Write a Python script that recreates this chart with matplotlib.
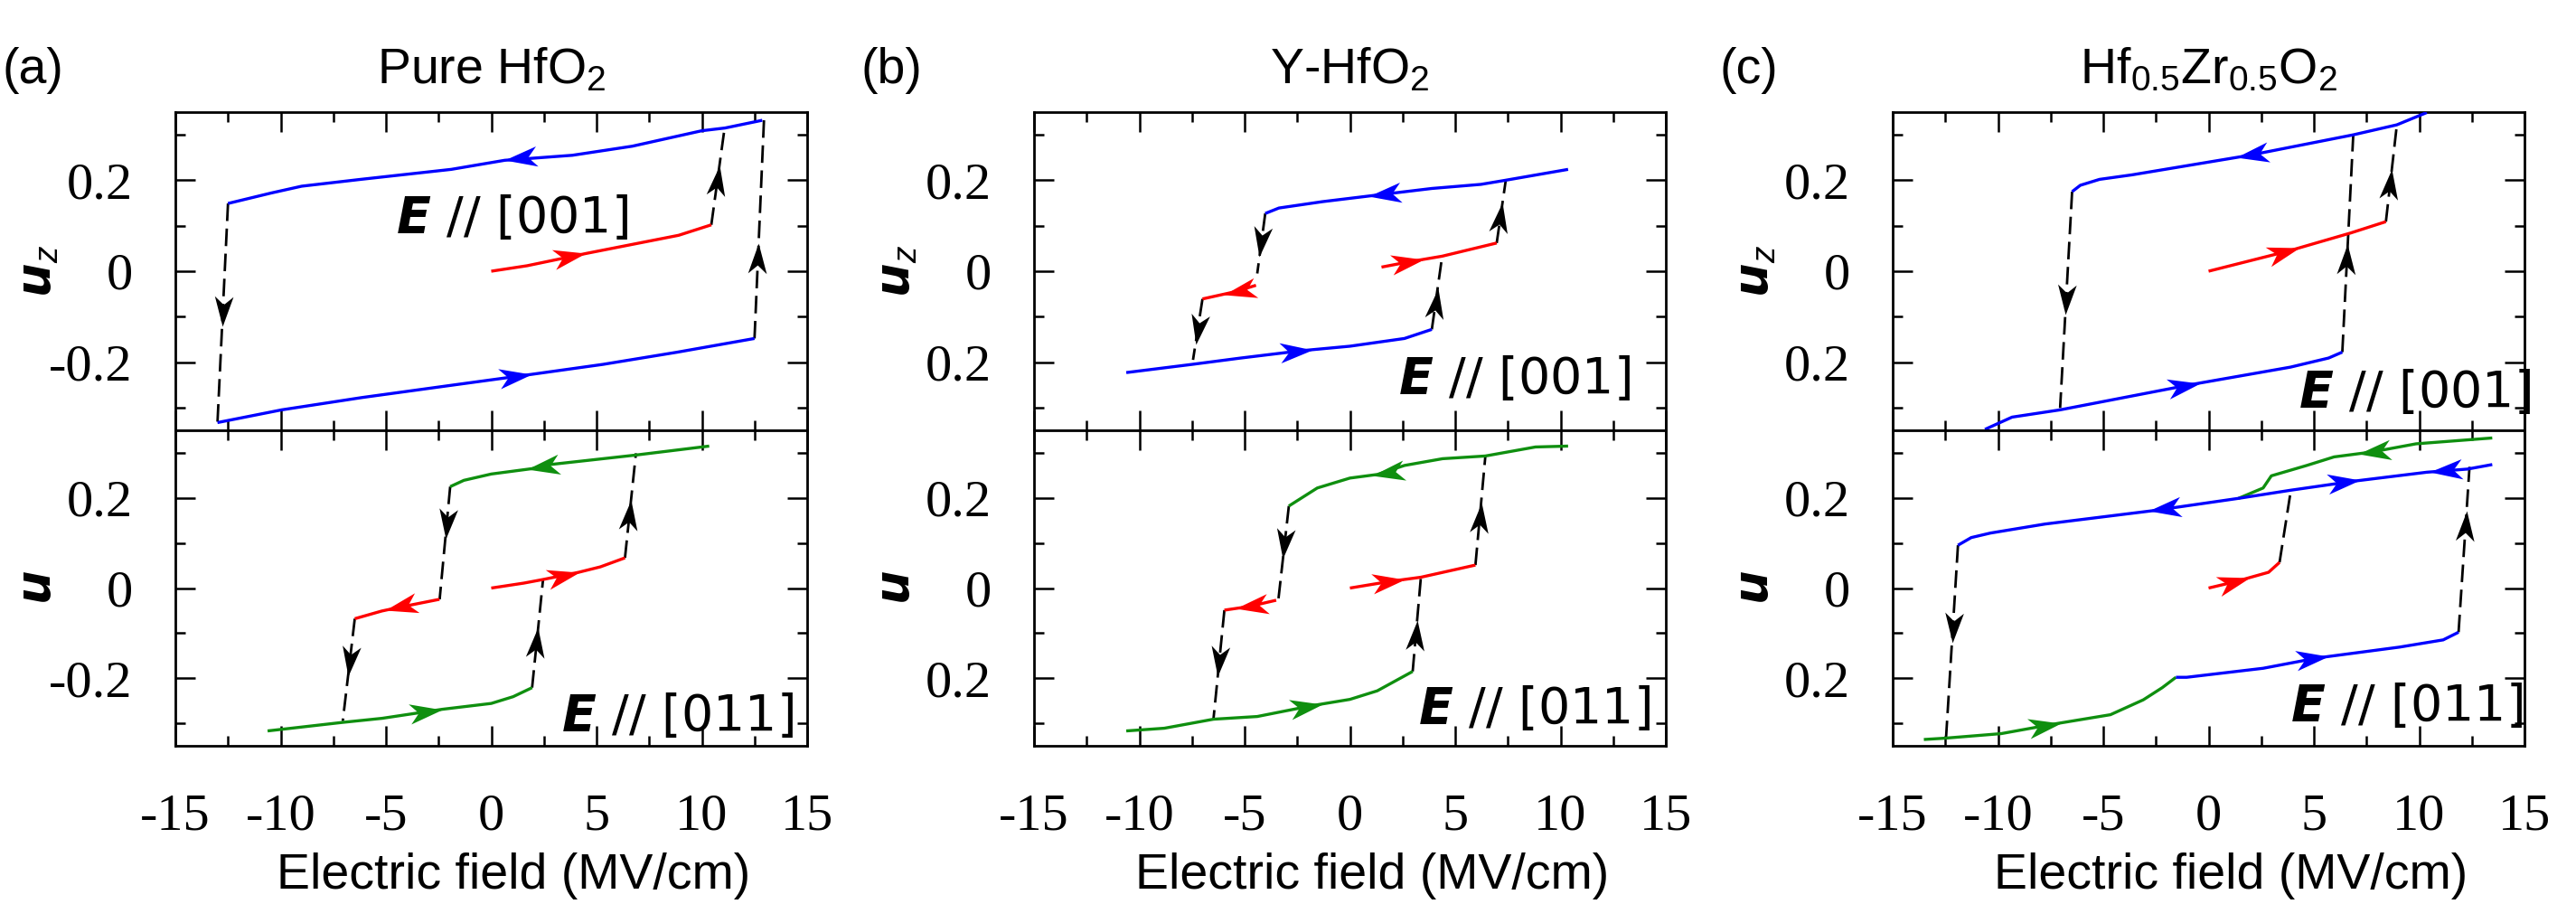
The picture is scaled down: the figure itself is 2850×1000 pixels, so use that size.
import numpy as np
import matplotlib
matplotlib.use("Agg")
import matplotlib.pyplot as plt
from matplotlib.markers import MarkerStyle
from matplotlib.path import Path
from matplotlib.transforms import Affine2D
from matplotlib.ticker import FixedLocator, MultipleLocator, NullFormatter

TICK_FONT = "Liberation Serif"
SANS = "Liberation Sans"
plt.rcParams['font.family'] = [TICK_FONT, 'DejaVu Serif']
plt.rcParams['font.serif'] = [TICK_FONT, 'DejaVu Serif']
plt.rcParams['mathtext.fontset'] = 'custom'
plt.rcParams['mathtext.default'] = 'regular'
plt.rcParams['mathtext.rm'] = TICK_FONT
plt.rcParams['mathtext.it'] = 'Liberation Sans:italic'
plt.rcParams['mathtext.bf'] = 'DejaVu Sans:bold:italic'

# ---------------- labels ----------------
TITLES = ["Pure HfO$_2$", "Y-HfO$_2$", "Hf$_{0.5}$Zr$_{0.5}$O$_2$"]
PANEL_TAGS = ["(a)", "(b)", "(c)"]
XTICKS = [-15, -10, -5, 0, 5, 10, 15]
XTICK_LABELS = ["-15", "-10", "-5", "0", "5", "10", "15"]
YTICKS = [-0.2, 0, 0.2]
YTICK_LABELS = [["-0.2", "0", "0.2"], ["0.2", "0", "0.2"], ["0.2", "0", "0.2"]]
TOP_NOTE = r"$\mathbf{E}$ // [001]"
BOT_NOTE = r"$\mathbf{E}$ // [011]"

# ---------------- (a) Pure HfO2, E // [001] ----------------
A_TOP_RED_X = [0, 1.7, 4.5, 6.7, 8.9, 10.45]
A_TOP_RED_Y = [0, 0.012, 0.039, 0.059, 0.079, 0.102]
A_TOP_BLUE_UP_X = [12.87, 11.1, 10.0, 6.7, 3.85, 0.64, -1.9, -6.2, -9.0, -10.45, -12.5]
A_TOP_BLUE_UP_Y = [0.332, 0.315, 0.309, 0.275, 0.255, 0.244, 0.224, 0.202, 0.187, 0.172, 0.149]
A_TOP_BLUE_DN_X = [-13.0, -9.95, -6.15, -1.9, 1.9, 5.3, 8.85, 12.5]
A_TOP_BLUE_DN_Y = [-0.333, -0.305, -0.278, -0.251, -0.227, -0.205, -0.178, -0.148]
A_TOP_RED_ARROWS = [(4.5, 1)]
A_TOP_BLUE_UP_ARROWS = [(0.64, -1)]
A_TOP_BLUE_DN_ARROWS = [(1.9, 1)]
# jumps: x0, y0, x1, y1, y of arrow tip
A_TOP_JUMPS = [(10.45, 0.102, 11.08, 0.315, 0.232),
               (-12.5, 0.149, -13.0, -0.333, -0.121),
               (12.5, -0.148, 12.95, 0.332, 0.062)]

# ---------------- (a) Pure HfO2, E // [011] ----------------
A_BOT_RED_R_X = [0, 1.55, 2.46, 4.15, 5.18, 6.35]
A_BOT_RED_R_Y = [0, 0.011, 0.019, 0.035, 0.047, 0.067]
A_BOT_GREEN_UP_X = [-1.95, -1.3, 0, 1.95, 2.6, 6.85, 10.35]
A_BOT_GREEN_UP_Y = [0.225, 0.239, 0.253, 0.265, 0.273, 0.295, 0.315]
A_BOT_RED_L_X = [-6.48, -5.2, -4.4, -2.46]
A_BOT_RED_L_Y = [-0.068, -0.051, -0.043, -0.025]
A_BOT_GREEN_DN_X = [-10.62, -7.05, -5.18, -2.33, 0, 1.04, 1.94]
A_BOT_GREEN_DN_Y = [-0.317, -0.298, -0.289, -0.269, -0.256, -0.241, -0.221]
A_BOT_RED_R_ARROWS = [(4.2, 1)]
A_BOT_GREEN_UP_ARROWS = [(1.7, -1)]
A_BOT_RED_L_ARROWS = [(-5.05, -1)]
A_BOT_GREEN_DN_ARROWS = [(-2.33, 1)]
A_BOT_JUMPS = [(6.35, 0.067, 6.87, 0.299, 0.195),
               (-1.95, 0.225, -2.45, -0.025, 0.109),
               (-6.48, -0.068, -7.05, -0.295, -0.195),
               (1.94, -0.221, 2.46, 0.019, -0.088)]

# ---------------- (b) Y-HfO2, E // [001] ----------------
B_TOP_BLUE_DN_X = [-10.62, -7.5, -5.18, -2.33, 0, 2.59, 3.89]
B_TOP_BLUE_DN_Y = [-0.223, -0.205, -0.191, -0.175, -0.165, -0.148, -0.128]
B_TOP_RED_R_X = [1.5, 2.85, 4.38, 6.97]
B_TOP_RED_R_Y = [0.009, 0.021, 0.033, 0.062]
B_TOP_BLUE_UP_X = [-4.02, -3.37, -1.3, 1.55, 3.89, 6.22, 7.38, 10.36]
B_TOP_BLUE_UP_Y = [0.127, 0.139, 0.153, 0.169, 0.182, 0.191, 0.2, 0.224]
B_TOP_RED_L_X = [-7.0, -5.44, -4.46]
B_TOP_RED_L_Y = [-0.061, -0.045, -0.031]
B_TOP_BLUE_DN_ARROWS = [(-1.8, 1)]
B_TOP_RED_R_ARROWS = [(3.5, 1)]
B_TOP_BLUE_UP_ARROWS = [(0.9, -1)]
B_TOP_RED_L_ARROWS = [(-6.0, -1)]
B_TOP_JUMPS = [(3.89, -0.128, 4.38, 0.033, -0.038),
               (6.97, 0.062, 7.4, 0.200, 0.152),
               (-4.02, 0.127, -4.4, -0.005, 0.032),
               (-7.0, -0.061, -7.45, -0.195, -0.161)]

# ---------------- (b) Y-HfO2, E // [011] ----------------
B_BOT_GREEN_DN_X = [-10.62, -8.81, -6.48, -4.4, -1.81, 0, 1.3, 2.98]
B_BOT_GREEN_DN_Y = [-0.317, -0.311, -0.291, -0.285, -0.261, -0.247, -0.228, -0.185]
B_BOT_RED_R_X = [0, 1.94, 3.37, 5.96]
B_BOT_RED_R_Y = [0, 0.015, 0.024, 0.051]
B_BOT_GREEN_UP_X = [-2.9, -1.55, 0, 1.3, 2.59, 4.4, 6.43, 8.81, 10.36]
B_BOT_GREEN_UP_Y = [0.182, 0.222, 0.244, 0.252, 0.272, 0.287, 0.293, 0.313, 0.315]
B_BOT_RED_L_X = [-5.96, -4.79, -3.5]
B_BOT_RED_L_Y = [-0.049, -0.041, -0.027]
B_BOT_GREEN_DN_ARROWS = [(-1.3, 1)]
B_BOT_RED_R_ARROWS = [(2.6, 1)]
B_BOT_GREEN_UP_ARROWS = [(1.04, -1)]
B_BOT_RED_L_ARROWS = [(-5.44, -1)]
B_BOT_JUMPS = [(2.98, -0.185, 3.37, 0.024, -0.071),
               (5.96, 0.051, 6.43, 0.292, 0.189),
               (-2.9, 0.182, -3.4, -0.027, 0.065),
               (-5.96, -0.049, -6.48, -0.291, -0.195)]

# ---------------- (c) Hf0.5Zr0.5O2, E // [001] ----------------
C_TOP_RED_X = [0, 3.76, 6.74, 8.42]
C_TOP_RED_Y = [0, 0.044, 0.084, 0.109]
C_TOP_BLUE_UP_X = [-6.48, -6.09, -5.18, -3.63, 1.94, 6.87, 8.94, 10.36]
C_TOP_BLUE_UP_Y = [0.175, 0.189, 0.202, 0.212, 0.255, 0.3, 0.322, 0.349]
C_TOP_BLUE_DN_X = [-10.62, -9.33, -7.05, -0.78, 3.89, 5.7, 6.35]
C_TOP_BLUE_DN_Y = [-0.348, -0.321, -0.305, -0.249, -0.211, -0.191, -0.178]
C_TOP_RED_ARROWS = [(4.3, 1)]
C_TOP_BLUE_UP_ARROWS = [(1.3, -1)]
C_TOP_BLUE_DN_ARROWS = [(-0.4, 1)]
C_TOP_JUMPS = [(8.42, 0.109, 8.94, 0.322, 0.225),
               (-6.48, 0.175, -7.05, -0.301, -0.095),
               (6.35, -0.178, 6.87, 0.3, 0.059)]

# ---------------- (c) Hf0.5Zr0.5O2, E // [011] ----------------
C_BOT_RED_X = [0, 1.17, 2.85, 3.37]
C_BOT_RED_Y = [0, 0.013, 0.035, 0.057]
C_BOT_BLUE_UP_X = [-11.9, -11.27, -10.36, -7.77, -2.59, 1.42, 3.89, 6.87, 10.36, 12.3, 13.47]
C_BOT_BLUE_UP_Y = [0.095, 0.112, 0.122, 0.142, 0.172, 0.199, 0.217, 0.237, 0.257, 0.264, 0.274]
C_BOT_GREEN_UP_X = [1.42, 2.59, 2.98, 4.66, 5.96, 7.77, 9.85, 13.47]
C_BOT_GREEN_UP_Y = [0.199, 0.222, 0.249, 0.272, 0.291, 0.302, 0.32, 0.333]
C_BOT_GREEN_DN_X = [-13.52, -12.49, -9.85, -7.25, -4.66, -3.1, -2.2, -1.55]
C_BOT_GREEN_DN_Y = [-0.336, -0.333, -0.323, -0.301, -0.281, -0.248, -0.221, -0.198]
C_BOT_BLUE_DN_X = [-1.55, -1.04, 2.59, 5.18, 9.07, 11.14, 11.87]
C_BOT_BLUE_DN_Y = [-0.198, -0.198, -0.178, -0.155, -0.131, -0.115, -0.098]
C_BOT_RED_ARROWS = [(1.94, 1)]
C_BOT_BLUE_UP_ARROWS = [(-2.85, -1), (7.2, 1), (10.5, -1)]
C_BOT_GREEN_UP_ARROWS = [(7.1, -1)]
C_BOT_GREEN_DN_ARROWS = [(-7.0, 1)]
C_BOT_BLUE_DN_ARROWS = [(5.7, 1)]
C_BOT_JUMPS = [(3.37, 0.057, 3.89, 0.212, None),
               (-11.9, 0.095, -12.47, -0.335, -0.121),
               (11.87, -0.098, 12.39, 0.269, 0.172)]

COLORS = {"red": "#ff0000", "blue": "#0000ff", "green": "#0f8f0f"}

PANELS = [
    (  # (a)
        [("red", A_TOP_RED_X, A_TOP_RED_Y, A_TOP_RED_ARROWS),
         ("blue", A_TOP_BLUE_UP_X, A_TOP_BLUE_UP_Y, A_TOP_BLUE_UP_ARROWS),
         ("blue", A_TOP_BLUE_DN_X, A_TOP_BLUE_DN_Y, A_TOP_BLUE_DN_ARROWS)],
        A_TOP_JUMPS,
        [("red", A_BOT_RED_R_X, A_BOT_RED_R_Y, A_BOT_RED_R_ARROWS),
         ("green", A_BOT_GREEN_UP_X, A_BOT_GREEN_UP_Y, A_BOT_GREEN_UP_ARROWS),
         ("red", A_BOT_RED_L_X, A_BOT_RED_L_Y, A_BOT_RED_L_ARROWS),
         ("green", A_BOT_GREEN_DN_X, A_BOT_GREEN_DN_Y, A_BOT_GREEN_DN_ARROWS)],
        A_BOT_JUMPS,
    ),
    (  # (b)
        [("blue", B_TOP_BLUE_DN_X, B_TOP_BLUE_DN_Y, B_TOP_BLUE_DN_ARROWS),
         ("red", B_TOP_RED_R_X, B_TOP_RED_R_Y, B_TOP_RED_R_ARROWS),
         ("blue", B_TOP_BLUE_UP_X, B_TOP_BLUE_UP_Y, B_TOP_BLUE_UP_ARROWS),
         ("red", B_TOP_RED_L_X, B_TOP_RED_L_Y, B_TOP_RED_L_ARROWS)],
        B_TOP_JUMPS,
        [("green", B_BOT_GREEN_DN_X, B_BOT_GREEN_DN_Y, B_BOT_GREEN_DN_ARROWS),
         ("red", B_BOT_RED_R_X, B_BOT_RED_R_Y, B_BOT_RED_R_ARROWS),
         ("green", B_BOT_GREEN_UP_X, B_BOT_GREEN_UP_Y, B_BOT_GREEN_UP_ARROWS),
         ("red", B_BOT_RED_L_X, B_BOT_RED_L_Y, B_BOT_RED_L_ARROWS)],
        B_BOT_JUMPS,
    ),
    (  # (c)
        [("red", C_TOP_RED_X, C_TOP_RED_Y, C_TOP_RED_ARROWS),
         ("blue", C_TOP_BLUE_UP_X, C_TOP_BLUE_UP_Y, C_TOP_BLUE_UP_ARROWS),
         ("blue", C_TOP_BLUE_DN_X, C_TOP_BLUE_DN_Y, C_TOP_BLUE_DN_ARROWS)],
        C_TOP_JUMPS,
        [("red", C_BOT_RED_X, C_BOT_RED_Y, C_BOT_RED_ARROWS),
         ("green", C_BOT_GREEN_UP_X, C_BOT_GREEN_UP_Y, C_BOT_GREEN_UP_ARROWS),
         ("blue", C_BOT_BLUE_UP_X, C_BOT_BLUE_UP_Y, C_BOT_BLUE_UP_ARROWS),
         ("green", C_BOT_GREEN_DN_X, C_BOT_GREEN_DN_Y, C_BOT_GREEN_DN_ARROWS),
         ("blue", C_BOT_BLUE_DN_X, C_BOT_BLUE_DN_Y, C_BOT_BLUE_DN_ARROWS)],
        C_BOT_JUMPS,
    ),
]

# note positions (axes fraction, right aligned, baseline)
NOTE_POS_TOP = [(0.717, 0.622), (0.944, 0.116), (1.01, 0.074)]
NOTE_POS_BOT = [(0.979, 0.049), (0.976, 0.072), (0.997, 0.08)]

W, H = 2850, 1000
fig = plt.figure(figsize=(W / 100, H / 100), dpi=100)

ARROW_PATH = Path([(0, 0), (-2, 0.62), (-1.45, 0), (-2, -0.62), (0, 0)],
                  [Path.MOVETO, Path.LINETO, Path.LINETO, Path.LINETO, Path.CLOSEPOLY])


def head(ax, x, y, dx, dy, color, ms):
    p0 = ax.transData.transform((x, y))
    p1 = ax.transData.transform((x + dx, y + dy))
    ang = np.degrees(np.arctan2(p1[1] - p0[1], p1[0] - p0[0]))
    m = MarkerStyle(ARROW_PATH, transform=Affine2D().rotate_deg(ang))
    ax.plot([x], [y], linestyle="none", marker=m, markersize=ms,
            color=color, markeredgewidth=0, zorder=6, clip_on=False)


def draw(ax, lines, jumps):
    for x0, y0, x1, y1, yt in jumps:
        ax.plot([x0, x1], [y0, y1], color="black", lw=2.0,
                linestyle=(0, (7, 3)), zorder=3)
        if yt is not None:
            xt = x0 + (yt - y0) / (y1 - y0) * (x1 - x0)
            head(ax, xt, yt, x1 - x0, y1 - y0, "black", 48)
    for cname, xs, ys, arrows in lines:
        c = COLORS[cname]
        ax.plot(xs, ys, color=c, lw=2.4, zorder=4, solid_capstyle="butt")
        xs_a = np.asarray(xs, float)
        ys_a = np.asarray(ys, float)
        o = np.argsort(xs_a)
        xs_s, ys_s = xs_a[o], ys_a[o]
        for xa, d in arrows:
            ya = np.interp(xa, xs_s, ys_s)
            h = 0.4
            dy = np.interp(xa + h, xs_s, ys_s) - np.interp(xa - h, xs_s, ys_s)
            head(ax, xa, ya, d * 2 * h, d * dy, c, 52)


def setup(ax, ylabels, show_x):
    ax.set_xlim(-15, 15)
    ax.set_ylim(-0.35, 0.35)
    if show_x:
        ax.set_xticks(XTICKS, labels=XTICK_LABELS, fontfamily=TICK_FONT,
                      fontsize=42)
    else:
        ax.xaxis.set_major_locator(FixedLocator(XTICKS))
        ax.xaxis.set_major_formatter(NullFormatter())
    ax.set_yticks(YTICKS, labels=ylabels, fontfamily=TICK_FONT, fontsize=42)
    ax.set_xlim(-15, 15)
    ax.set_ylim(-0.35, 0.35)
    ax.xaxis.set_minor_locator(MultipleLocator(2.5))
    ax.yaxis.set_minor_locator(MultipleLocator(0.1))
    ax.tick_params(which="both", direction="in", top=True, right=True,
                   width=1.8, color="black", labelcolor="black")
    ax.tick_params(which="major", length=16)
    ax.tick_params(which="minor", length=8)
    ax.tick_params(axis="y", pad=34)
    ax.tick_params(axis="x", pad=38)
    ax.tick_params(which="both", labelsize=42, labelfontfamily=TICK_FONT)
    for s in ax.spines.values():
        s.set_linewidth(2.0)


for i in range(3):
    off = 950 * i
    left = (off + 194) / W
    width = 699 / W
    ax_t = fig.add_axes([left, 0.524, width, 0.352])
    ax_b = fig.add_axes([left, 0.175, width, 0.349])
    top_lines, top_jumps, bot_lines, bot_jumps = PANELS[i]
    setup(ax_t, YTICK_LABELS[i], False)
    setup(ax_b, YTICK_LABELS[i], True)
    draw(ax_t, top_lines, top_jumps)
    draw(ax_b, bot_lines, bot_jumps)

    ax_t.set_title(TITLES[i], fontsize=40, pad=23, family=SANS)
    fig.text((off + 3) / W, 0.908, PANEL_TAGS[i], fontsize=40,
             ha="left", va="baseline", family=SANS)

    ax_t.set_ylabel(r"$\mathbf{u}_z$", fontsize=38, style="italic",
                    ha="center", va="center", family=SANS)
    ax_b.set_ylabel(r"$\mathbf{u}$", fontsize=38, style="italic",
                    ha="center", va="center", family=SANS)
    ax_t.yaxis.set_label_coords(-0.217, 0.5)
    ax_b.yaxis.set_label_coords(-0.217, 0.5)

    ax_b.set_xlabel("Electric field (MV/cm)", fontsize=40, va="top",
                    family=SANS)
    ax_b.xaxis.set_label_coords(0.535, -0.338)

    xt, yt = NOTE_POS_TOP[i]
    ax_t.text(xt, yt, TOP_NOTE, transform=ax_t.transAxes, ha="right",
              va="baseline", fontsize=40, family="DejaVu Sans", zorder=7)
    xb, yb = NOTE_POS_BOT[i]
    ax_b.text(xb, yb, BOT_NOTE, transform=ax_b.transAxes, ha="right",
              va="baseline", fontsize=40, family="DejaVu Sans", zorder=7)

fig.savefig("out.png", dpi=100, facecolor="white")
